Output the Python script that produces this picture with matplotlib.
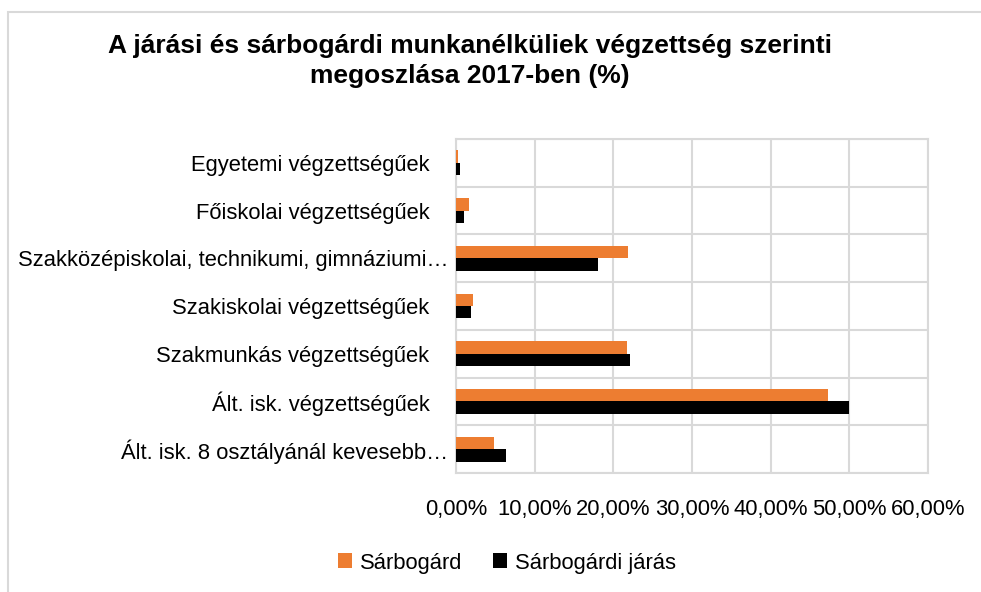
import numpy as np
import matplotlib.pyplot as plt
from matplotlib.patches import Rectangle
from matplotlib.ticker import FuncFormatter
from matplotlib.transforms import ScaledTranslation

plt.rcParams['font.family'] = ['Liberation Sans', 'DejaVu Sans']

# ADATOK (alulról felfelé)
kategoriak = ['Ált. isk. 8 osztályánál kevesebb…',
              'Ált. isk. végzettségűek',
              'Szakmunkás végzettségűek',
              'Szakiskolai végzettségűek',
              'Szakközépiskolai, technikumi, gimnáziumi…',
              'Főiskolai végzettségűek',
              'Egyetemi végzettségűek']
sarbogard = [4.8, 47.3, 21.7, 2.1, 21.9, 1.65, 0.2]
jaras = [6.3, 50.0, 22.1, 1.95, 18.0, 1.0, 0.5]
szeriak = ['Sárbogárd', 'Sárbogárdi járás']
szinek = ['#ed7d31', '#000000']

fig = plt.figure(figsize=(9.81, 5.92), dpi=100)
ax = fig.add_axes([456/981, 1 - 473/592, (928-456)/981, (473-139)/592])

y = np.arange(len(kategoriak))
h = 0.26
ax.barh(y + h/2, sarbogard, height=h, color=szinek[0], label=szeriak[0], zorder=3)
ax.barh(y - h/2, jaras, height=h, color=szinek[1], label=szeriak[1], zorder=3)

ax.set_xlim(0, 60)
ax.set_ylim(-0.5, len(kategoriak) - 0.5)
ax.set_xticks(np.arange(0, 61, 10))
ax.xaxis.set_major_formatter(FuncFormatter(lambda v, p: f'{v:.2f}%'.replace('.', ',')))
ax.set_yticks(y)
ax.set_yticklabels(kategoriak)
ax.set_yticks(np.arange(-0.5, len(kategoriak)), minor=True)
ax.tick_params(axis='both', which='both', length=0, labelsize=15.8, colors='#000000')
ax.tick_params(axis='x', pad=19)
ax.tick_params(axis='y', pad=19)

# a levágott (…) feliratok közelebb érnek a tengelyhez
for lbl in ax.get_yticklabels():
    if lbl.get_text().endswith('…'):
        lbl.set_transform(lbl.get_transform() + ScaledTranslation(0.19, 0, fig.dpi_scale_trans))

grid_c = '#d9d9d9'
ax.grid(axis='x', which='major', color=grid_c, lw=1.5, zorder=0)
ax.grid(axis='y', which='minor', color=grid_c, lw=1.5, zorder=0)
for s in ax.spines.values():
    s.set_color(grid_c)
    s.set_linewidth(1.5)

fig.text(470/981, 1 - 61/592, 'A járási és sárbogárdi munkanélküliek végzettség szerinti\nmegoszlása 2017-ben (%)',
         ha='center', va='center', fontsize=19, fontweight='bold', linespacing=1.28)

fig.legend(loc='center', bbox_to_anchor=(507/981, 1 - 563/592), ncol=2, frameon=False,
           fontsize=15.8, handlelength=0.65, handleheight=0.65, handletextpad=0.35, columnspacing=1.4)

fig.patches.append(Rectangle((8/981, -0.1), 1.2, 0.1 + (592-12)/592, transform=fig.transFigure,
                             fill=False, edgecolor=grid_c, lw=1.5))

fig.savefig('out.png', dpi=100)
